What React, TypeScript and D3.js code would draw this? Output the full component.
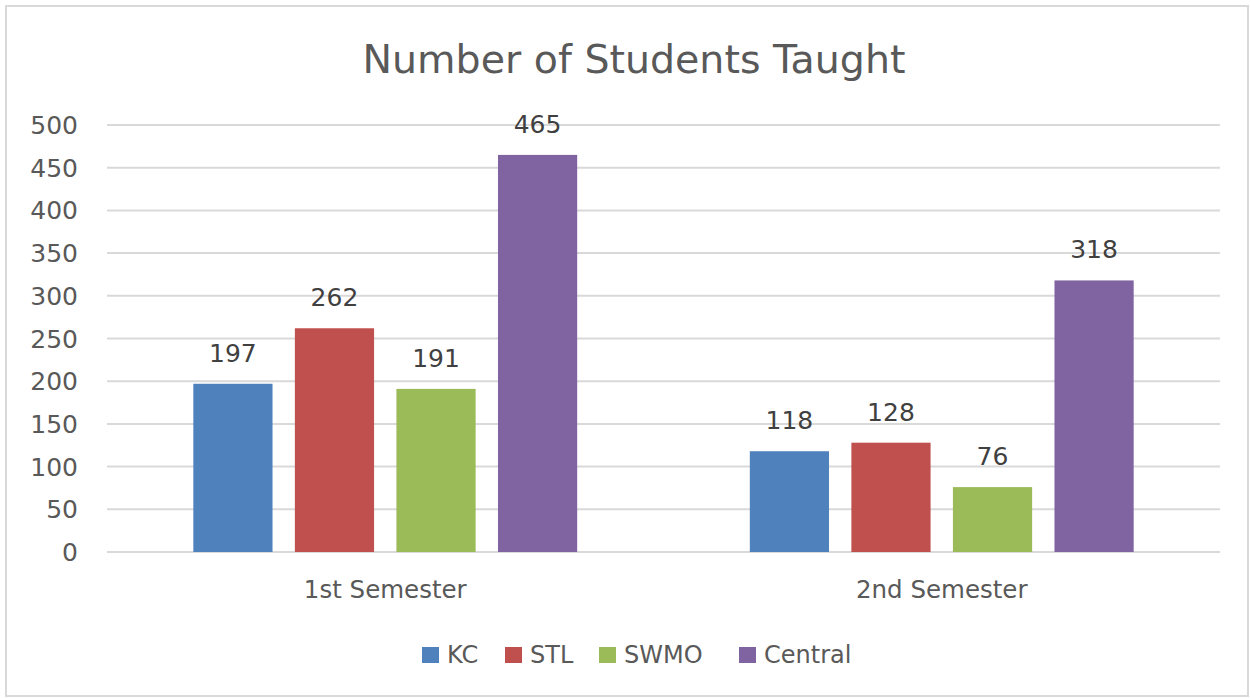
import React, { useEffect, useRef } from 'react';
import * as d3 from 'd3';

const semesters = ['1st Semester', '2nd Semester'];
const campuses = ['KC', 'STL', 'SWMO', 'Central'];
const kcValues = [197, 118];
const stlValues = [262, 128];
const swmoValues = [191, 76];
const centralValues = [465, 318];
const yTicks = [0, 50, 100, 150, 200, 250, 300, 350, 400, 450, 500];
const colors = ['#4f81bd', '#c0504d', '#9bbb59', '#8064a2'];

const App = () => {
	const ref = useRef<SVGSVGElement>(null);

	useEffect(() => {
		document.body.style.margin = '0';
		const width = 1251;
		const height = 698;
		const font = 'DejaVu Sans, sans-serif';
		const textColor = '#595959';

		const seriesValues = [kcValues, stlValues, swmoValues, centralValues];
		const data = semesters.map((s, i) => ({
			semester: s,
			values: campuses.map((c, j) => ({ campus: c, value: seriesValues[j][i] }))
		}));

		const svg = d3.select(ref.current);
		svg.selectAll('*').remove();

		svg.append('rect')
			.attr('x', 6)
			.attr('y', 6)
			.attr('width', width - 9)
			.attr('height', height - 8)
			.attr('fill', '#fff')
			.attr('stroke', '#d9d9d9')
			.attr('stroke-width', 2);

		const left = 107;
		const right = 1220;
		const top = 125;
		const bottom = 552;

		const y = d3.scaleLinear().domain([0, 500]).range([bottom, top]);
		const x0 = d3.scaleBand().domain(semesters).range([left, right]);
		const x1 = d3
			.scaleBand()
			.domain(campuses)
			.range([0, x0.bandwidth()])
			.paddingInner(0.22)
			.paddingOuter(0.85);
		const color = d3.scaleOrdinal<string>().domain(campuses).range(colors);

		// gridlines
		svg.append('g')
			.selectAll('line')
			.data(yTicks)
			.enter()
			.append('line')
			.attr('x1', left)
			.attr('x2', right)
			.attr('y1', d => y(d))
			.attr('y2', d => y(d))
			.attr('stroke', '#d9d9d9')
			.attr('stroke-width', 2);

		svg.append('g')
			.selectAll('text')
			.data(yTicks)
			.enter()
			.append('text')
			.attr('x', 78)
			.attr('y', d => y(d) + 9)
			.attr('text-anchor', 'end')
			.style('font-family', font)
			.style('font-size', '25px')
			.attr('fill', textColor)
			.text(d => d);

		const groups = svg
			.selectAll('g.group')
			.data(data)
			.enter()
			.append('g')
			.attr('class', 'group')
			.attr('transform', d => `translate(${x0(d.semester)}, 0)`);

		groups
			.selectAll('rect')
			.data(d => d.values)
			.enter()
			.append('rect')
			.attr('x', d => x1(d.campus)!)
			.attr('y', d => y(d.value))
			.attr('width', x1.bandwidth())
			.attr('height', d => bottom - y(d.value))
			.attr('fill', d => color(d.campus));

		groups
			.selectAll('text.value')
			.data(d => d.values)
			.enter()
			.append('text')
			.attr('class', 'value')
			.attr('x', d => x1(d.campus)! + x1.bandwidth() / 2)
			.attr('y', d => y(d.value) - 22)
			.attr('text-anchor', 'middle')
			.style('font-family', font)
			.style('font-size', '25px')
			.attr('fill', '#404040')
			.text(d => d.value);

		svg.append('g')
			.selectAll('text')
			.data(semesters)
			.enter()
			.append('text')
			.attr('x', d => x0(d)! + x0.bandwidth() / 2)
			.attr('y', 598)
			.attr('text-anchor', 'middle')
			.style('font-family', font)
			.style('font-size', '24.5px')
			.attr('fill', textColor)
			.text(d => d);

		svg.append('text')
			.attr('x', 634)
			.attr('y', 73)
			.attr('text-anchor', 'middle')
			.style('font-family', font)
			.style('font-size', '39.5px')
			.attr('fill', textColor)
			.text('Number of Students Taught');

		// legend
		const legendX = [422, 505, 599, 739];
		const legend = svg
			.append('g')
			.selectAll('g')
			.data(campuses)
			.enter()
			.append('g')
			.attr('transform', (d, i) => `translate(${legendX[i]}, 655)`);

		legend
			.append('rect')
			.attr('x', 0)
			.attr('y', -8)
			.attr('width', 17)
			.attr('height', 16)
			.attr('fill', d => color(d));

		legend
			.append('text')
			.attr('x', 25)
			.attr('y', 8)
			.style('font-family', font)
			.style('font-size', '24px')
			.attr('fill', textColor)
			.text(d => d);
	}, []);

	return <svg ref={ref} width={1251} height={698} style={{ display: 'block' }} />;
};

export default App;
